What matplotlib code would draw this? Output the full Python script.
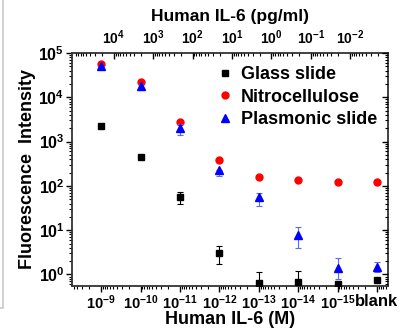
import numpy as np
import matplotlib
matplotlib.use("Agg")
import matplotlib.pyplot as plt
from matplotlib.lines import Line2D
from matplotlib.ticker import FixedLocator, NullFormatter, LogLocator

plt.rcParams['font.family'] = 'Liberation Sans'
plt.rcParams['font.weight'] = 'bold'
plt.rcParams['mathtext.fontset'] = 'custom'
plt.rcParams['mathtext.rm'] = 'Liberation Sans:weight=bold'
plt.rcParams['mathtext.bf'] = 'Liberation Sans:weight=bold'
plt.rcParams['mathtext.it'] = 'Liberation Sans:weight=bold'
plt.rcParams['mathtext.default'] = 'rm'

# concentrations (M), last one is the blank
conc_labels = [r'$10^{-9}$', r'$10^{-10}$', r'$10^{-11}$', r'$10^{-12}$',
               r'$10^{-13}$', r'$10^{-14}$', r'$10^{-15}$', 'blank']
x_pos = np.arange(len(conc_labels))

# glass slide
glass = [2200, 455, 56, 3.0, 0.63, 0.69, 0.62, 0.77]
glass_lo = [2200, 455, 40, 1.77, 0.63, 0.69, 0.62, 0.77]
glass_hi = [2200, 455, 74, 4.3, 1.12, 1.19, 0.62, 0.77]

# nitrocellulose
nitro = [55000, 22000, 2770, 385, 157, 136, 125, 121]

# plasmonic slide
plas = [50000, 18000, 1990, 230, 56, 7.9, 1.41, 1.49]
plas_lo = [50000, 14400, 1400, 167, 35, 4.0, 0.8, 1.12]
plas_hi = [50000, 20000, 2560, 230, 70, 11.8, 2.37, 1.93]

# top axis: pg/ml, IL-6 ~21 kDa -> 1e-9 M = 2.1e4 pg/ml
pg_first = 2.1e4
top_ticks = [1e4, 1e3, 1e2, 1e1, 1e0, 1e-1, 1e-2]
top_labels = [r'$10^{4}$', r'$10^{3}$', r'$10^{2}$', r'$10^{1}$',
              r'$10^{0}$', r'$10^{-1}$', r'$10^{-2}$']

y_ticks = [1e0, 1e1, 1e2, 1e3, 1e4, 1e5]
y_labels = [r'$10^{0}$', r'$10^{1}$', r'$10^{2}$', r'$10^{3}$', r'$10^{4}$', r'$10^{5}$']

xlim = (-0.74, 7.28)
ylim = (0.55, 1.0e5)

fig = plt.figure(figsize=(4.17, 3.35), dpi=100)
ax = fig.add_axes([0.1727, 0.1463, 0.7578, 0.6955])

def err(v, lo, hi):
    v = np.array(v); return [v - np.array(lo), np.array(hi) - v]

ax.errorbar(x_pos, glass, yerr=err(glass, glass_lo, glass_hi), fmt='s', color='black',
            ms=4, capsize=2.5, elinewidth=0.8, capthick=0.8, zorder=3)
ax.errorbar(x_pos, nitro, fmt='o', color='red', ms=5, zorder=3)
ax.errorbar(x_pos, plas, yerr=err(plas, plas_lo, plas_hi), fmt='^', color='blue',
            ecolor='#5a6cf0', ms=5.5, capsize=2.5, elinewidth=0.8, capthick=0.8, zorder=4)

ax.set_yscale('log')
ax.set_xlim(*xlim)
ax.set_ylim(*ylim)
ax.set_yticks(y_ticks, y_labels, fontsize=11.5)
ax.yaxis.set_minor_locator(LogLocator(base=10, subs=np.arange(2, 10)))
ax.yaxis.set_minor_formatter(NullFormatter())
ax.set_xticks(x_pos, conc_labels, fontsize=10.5)
ax.get_xticklabels()[-1].set_fontsize(12)
minor_x = [i + 1 - np.log10(k) for i in range(-1, 8) for k in range(2, 10)]
ax.xaxis.set_minor_locator(FixedLocator(minor_x))
ax.tick_params(axis='both', which='major', direction='out', length=4, width=1, pad=1.5)
ax.tick_params(axis='both', which='minor', direction='out', length=2, width=0.8)

for s in ax.spines.values():
    s.set_linewidth(1.3)
    s.set_color('#333333')

ax.set_xlabel('Human IL-6 (M)', fontsize=13, fontweight='bold', labelpad=-1)
ax.set_ylabel('Fluorescence  Intensity', fontsize=13, fontweight='bold', labelpad=2)

# top axis in pg/ml
axt = ax.twiny()
axt.set_xscale('log')
axt.set_xlim(pg_first * 10 ** (-xlim[0]), pg_first * 10 ** (-xlim[1]))
axt.set_xticks(top_ticks, top_labels, fontsize=10)
axt.xaxis.set_minor_locator(LogLocator(base=10, subs=np.arange(2, 10), numticks=30))
axt.xaxis.set_minor_formatter(NullFormatter())
axt.tick_params(axis='x', which='major', direction='in', length=4, width=1, pad=4)
axt.tick_params(axis='x', which='minor', direction='in', length=2, width=0.8)
axt.set_xlabel('Human IL-6 (pg/ml)', fontsize=12.5, fontweight='bold', labelpad=6)
for s in axt.spines.values():
    s.set_visible(False)

# right axis ticks
axr = ax.twinx()
axr.set_yscale('log')
axr.set_ylim(*ylim)
axr.set_yticks(y_ticks, [''] * len(y_ticks))
axr.yaxis.set_minor_locator(LogLocator(base=10, subs=np.arange(2, 10)))
axr.yaxis.set_minor_formatter(NullFormatter())
axr.tick_params(axis='y', which='major', direction='in', length=4, width=1)
axr.tick_params(axis='y', which='minor', direction='in', length=2, width=0.8)
for s in axr.spines.values():
    s.set_visible(False)

handles = [Line2D([], [], ls='', marker='s', color='black', ms=4),
           Line2D([], [], ls='', marker='o', color='red', ms=5),
           Line2D([], [], ls='', marker='^', color='blue', ms=5.5)]
labels = ['Glass slide', 'Nitrocellulose', 'Plasmonic slide']
leg = ax.legend(handles, labels, loc='upper right', bbox_to_anchor=(1.0, 0.99), frameon=False,
                prop={'size': 13, 'weight': 'bold'}, handletextpad=0.3, labelspacing=0.3,
                handlelength=1.2, borderaxespad=0.2)

# faint crop border on the left
fig.add_artist(Line2D([0, 3 / 417, 3 / 417], [1 - 308 / 335, 1 - 308 / 335, 1],
                      color='#c8c8c8', lw=1.2))

fig.savefig('out.png', dpi=100)
